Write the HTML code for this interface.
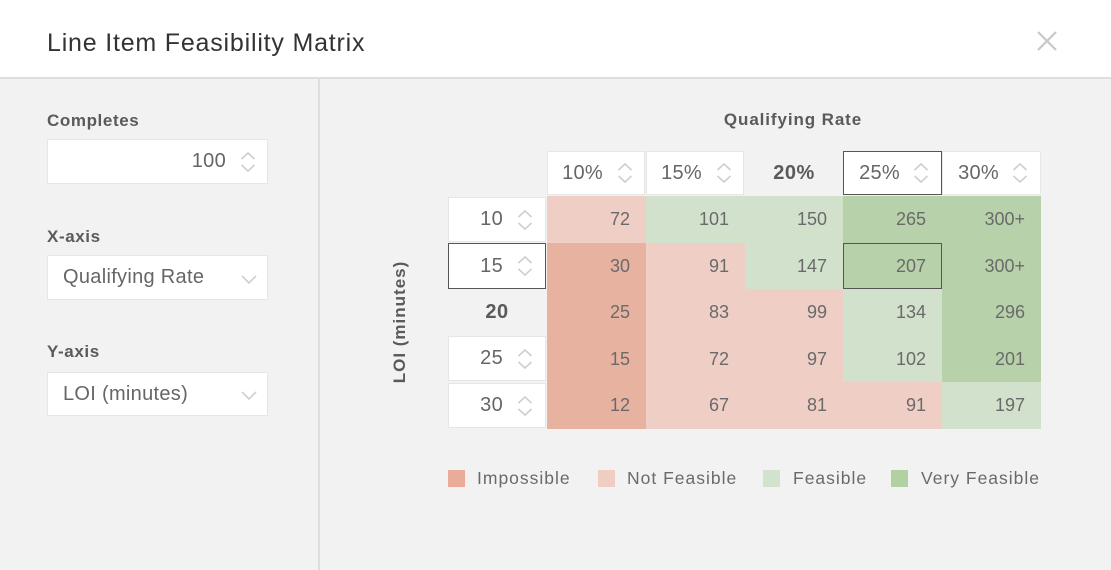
<!DOCTYPE html>
<html><head><meta charset="utf-8"><style>
*{box-sizing:border-box;margin:0;padding:0}
html,body{width:1111px;height:570px;overflow:hidden}
body{background:#f2f2f2;font-family:"Liberation Sans",sans-serif;color:#666;position:relative}
.a{position:absolute}
.hdr{left:0;top:0;width:1111px;height:79px;background:#fff;border-bottom:2px solid #dedede}
.title{left:47px;top:28px;font-size:25px;line-height:30px;letter-spacing:.8px;color:#333;white-space:nowrap}
.vdiv{left:318px;top:79px;width:2px;height:491px;background:#dedede}
.lbl{position:absolute;font-size:17px;line-height:20px;font-weight:bold;color:#5a5a5a;letter-spacing:.6px;white-space:nowrap}
.box{position:absolute;background:#fff;border:1px solid #e6e6e6}
.sel{border:1.5px solid #555}
.tx{position:absolute;top:0;bottom:0;display:flex;align-items:center;font-size:20px;color:#666;white-space:nowrap;letter-spacing:.3px}
.sp{position:absolute;top:50%;margin-top:-11px}
.c{position:absolute;display:flex;align-items:center;justify-content:flex-end;padding-right:16px;font-size:18px;color:#6a6a6a}
.I{background:#e8b2a0}.N{background:#eecec5}.F{background:#d2e1cc}.V{background:#b7d2aa}
.lg{position:absolute;top:470px;width:17px;height:17px}
.lt{position:absolute;top:467px;font-size:17.5px;line-height:22px;letter-spacing:1px;color:#6a6a6a;white-space:nowrap}
</style></head><body>
<div class="a hdr"></div>
<div class="a title">Line Item Feasibility Matrix</div>
<svg class="a" style="left:1036px;top:30px" width="22" height="22" viewBox="0 0 22 22"><path d="M2 2L20 20M20 2L2 20" stroke="#c8c8c8" stroke-width="2.2" fill="none"/></svg>
<div class="a vdiv"></div>

<!-- left panel -->
<div class="lbl" style="left:47px;top:111px">Completes</div>
<div class="box" style="left:47px;top:139px;width:221px;height:45px">
  <span class="tx" style="right:41px">100</span>
  <svg class="sp" style="left:192px" width="16" height="22" viewBox="0 0 16 22"><polyline points="1.5,8 8,2 14.5,8" fill="none" stroke="#cfcfcf" stroke-width="1.6"/><polyline points="1.5,14 8,20 14.5,14" fill="none" stroke="#cfcfcf" stroke-width="1.6"/></svg>
</div>

<div class="lbl" style="left:47px;top:227px">X-axis</div>
<div class="box" style="left:47px;top:255px;width:221px;height:45px">
  <span class="tx" style="left:15px">Qualifying Rate</span>
  <svg class="a" style="left:193px;top:19px" width="16" height="9" viewBox="0 0 16 9"><polyline points="1,1 8,8 15,1" fill="none" stroke="#cfcfcf" stroke-width="1.6"/></svg>
</div>

<div class="lbl" style="left:47px;top:342px">Y-axis</div>
<div class="box" style="left:47px;top:372px;width:221px;height:44px">
  <span class="tx" style="left:15px">LOI (minutes)</span>
  <svg class="a" style="left:193px;top:18px" width="16" height="9" viewBox="0 0 16 9"><polyline points="1,1 8,8 15,1" fill="none" stroke="#cfcfcf" stroke-width="1.6"/></svg>
</div>

<!-- matrix titles -->
<div class="lbl" style="left:693px;top:110px;width:200px;text-align:center;letter-spacing:.9px">Qualifying Rate</div>
<div class="lbl" style="left:320px;top:311.5px;width:160px;text-align:center;letter-spacing:1px;transform:rotate(-90deg)">LOI (minutes)</div>

<!-- column headers -->
<div class="box" style="left:547px;top:151px;width:98px;height:44px"><span class="tx" style="right:41px">10%</span>
<svg class="sp" style="left:69px" width="16" height="22" viewBox="0 0 16 22"><polyline points="1.5,8 8,2 14.5,8" fill="none" stroke="#cfcfcf" stroke-width="1.6"/><polyline points="1.5,14 8,20 14.5,14" fill="none" stroke="#cfcfcf" stroke-width="1.6"/></svg></div>
<div class="box" style="left:646px;top:151px;width:98px;height:44px"><span class="tx" style="right:41px">15%</span>
<svg class="sp" style="left:69px" width="16" height="22" viewBox="0 0 16 22"><polyline points="1.5,8 8,2 14.5,8" fill="none" stroke="#cfcfcf" stroke-width="1.6"/><polyline points="1.5,14 8,20 14.5,14" fill="none" stroke="#cfcfcf" stroke-width="1.6"/></svg></div>
<div class="a" style="left:745px;top:151px;width:98px;height:44px;display:flex;align-items:center;justify-content:center;font-size:20px;font-weight:bold;color:#5a5a5a;letter-spacing:.5px">20%</div>
<div class="box sel" style="left:843px;top:151px;width:99px;height:44px"><span class="tx" style="right:41px">25%</span>
<svg class="sp" style="left:69px" width="16" height="22" viewBox="0 0 16 22"><polyline points="1.5,8 8,2 14.5,8" fill="none" stroke="#cfcfcf" stroke-width="1.6"/><polyline points="1.5,14 8,20 14.5,14" fill="none" stroke="#cfcfcf" stroke-width="1.6"/></svg></div>
<div class="box" style="left:942px;top:151px;width:99px;height:44px"><span class="tx" style="right:41px">30%</span>
<svg class="sp" style="left:69px" width="16" height="22" viewBox="0 0 16 22"><polyline points="1.5,8 8,2 14.5,8" fill="none" stroke="#cfcfcf" stroke-width="1.6"/><polyline points="1.5,14 8,20 14.5,14" fill="none" stroke="#cfcfcf" stroke-width="1.6"/></svg></div>

<!-- row headers -->
<div class="box" style="left:448px;top:197px;width:98px;height:45px"><span class="tx" style="right:42px">10</span>
<svg class="sp" style="left:68px" width="16" height="22" viewBox="0 0 16 22"><polyline points="1.5,8 8,2 14.5,8" fill="none" stroke="#cfcfcf" stroke-width="1.6"/><polyline points="1.5,14 8,20 14.5,14" fill="none" stroke="#cfcfcf" stroke-width="1.6"/></svg></div>
<div class="box sel" style="left:448px;top:243px;width:98px;height:46px"><span class="tx" style="right:42px">15</span>
<svg class="sp" style="left:68px" width="16" height="22" viewBox="0 0 16 22"><polyline points="1.5,8 8,2 14.5,8" fill="none" stroke="#cfcfcf" stroke-width="1.6"/><polyline points="1.5,14 8,20 14.5,14" fill="none" stroke="#cfcfcf" stroke-width="1.6"/></svg></div>
<div class="a" style="left:448px;top:289px;width:98px;height:47px;display:flex;align-items:center;justify-content:center;font-size:20px;font-weight:bold;color:#5a5a5a;letter-spacing:.5px">20</div>
<div class="box" style="left:448px;top:336px;width:98px;height:45px"><span class="tx" style="right:42px">25</span>
<svg class="sp" style="left:68px" width="16" height="22" viewBox="0 0 16 22"><polyline points="1.5,8 8,2 14.5,8" fill="none" stroke="#cfcfcf" stroke-width="1.6"/><polyline points="1.5,14 8,20 14.5,14" fill="none" stroke="#cfcfcf" stroke-width="1.6"/></svg></div>
<div class="box" style="left:448px;top:383px;width:98px;height:45px"><span class="tx" style="right:42px">30</span>
<svg class="sp" style="left:68px" width="16" height="22" viewBox="0 0 16 22"><polyline points="1.5,8 8,2 14.5,8" fill="none" stroke="#cfcfcf" stroke-width="1.6"/><polyline points="1.5,14 8,20 14.5,14" fill="none" stroke="#cfcfcf" stroke-width="1.6"/></svg></div>

<!-- cells row 10 -->
<div class="c N" style="left:547px;top:196px;width:99px;height:47px">72</div>
<div class="c F" style="left:646px;top:196px;width:99px;height:47px">101</div>
<div class="c F" style="left:745px;top:196px;width:98px;height:47px">150</div>
<div class="c V" style="left:843px;top:196px;width:99px;height:47px">265</div>
<div class="c V" style="left:942px;top:196px;width:99px;height:47px">300+</div>
<!-- row 15 -->
<div class="c I" style="left:547px;top:243px;width:99px;height:46px">30</div>
<div class="c N" style="left:646px;top:243px;width:99px;height:46px">91</div>
<div class="c F" style="left:745px;top:243px;width:98px;height:46px">147</div>
<div class="c V" style="left:843px;top:243px;width:99px;height:46px">207</div>
<div class="c V" style="left:942px;top:243px;width:99px;height:46px">300+</div>
<!-- row 20 -->
<div class="c I" style="left:547px;top:289px;width:99px;height:47px">25</div>
<div class="c N" style="left:646px;top:289px;width:99px;height:47px">83</div>
<div class="c N" style="left:745px;top:289px;width:98px;height:47px">99</div>
<div class="c F" style="left:843px;top:289px;width:99px;height:47px">134</div>
<div class="c V" style="left:942px;top:289px;width:99px;height:47px">296</div>
<!-- row 25 -->
<div class="c I" style="left:547px;top:336px;width:99px;height:46px">15</div>
<div class="c N" style="left:646px;top:336px;width:99px;height:46px">72</div>
<div class="c N" style="left:745px;top:336px;width:98px;height:46px">97</div>
<div class="c F" style="left:843px;top:336px;width:99px;height:46px">102</div>
<div class="c V" style="left:942px;top:336px;width:99px;height:46px">201</div>
<!-- row 30 -->
<div class="c I" style="left:547px;top:382px;width:99px;height:47px">12</div>
<div class="c N" style="left:646px;top:382px;width:99px;height:47px">67</div>
<div class="c N" style="left:745px;top:382px;width:98px;height:47px">81</div>
<div class="c N" style="left:843px;top:382px;width:99px;height:47px">91</div>
<div class="c F" style="left:942px;top:382px;width:99px;height:47px">197</div>

<!-- selected cell outline -->
<div class="a" style="left:843px;top:243px;width:99px;height:46px;border:1.5px solid #555"></div>

<!-- legend -->
<div class="lg" style="left:448px;background:#eaab98"></div>
<div class="lt" style="left:477px">Impossible</div>
<div class="lg" style="left:598px;background:#efcdc3"></div>
<div class="lt" style="left:627px">Not Feasible</div>
<div class="lg" style="left:763px;background:#d2e2cc"></div>
<div class="lt" style="left:793px">Feasible</div>
<div class="lg" style="left:891px;background:#b1d1a3"></div>
<div class="lt" style="left:921px">Very Feasible</div>
</body></html>
